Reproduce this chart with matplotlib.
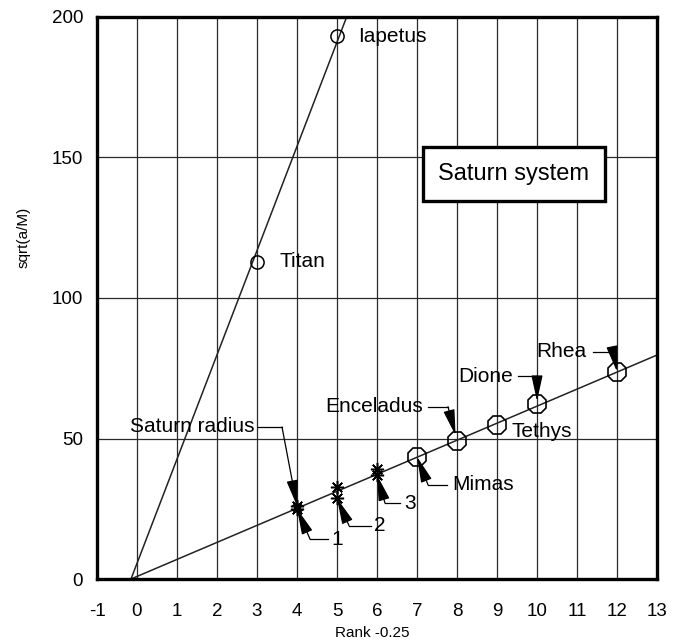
import matplotlib
matplotlib.use("Agg")
import matplotlib.pyplot as plt
from matplotlib.patches import Rectangle
import numpy as np

plt.rcParams['font.family'] = ['Liberation Sans', 'DejaVu Sans']
plt.rcParams['axes.unicode_minus'] = False

# ---- data ----
outer_names = ["Titan", "Iapetus"]
outer_rank = [3, 5]
outer_val = [112.9, 193.2]

inner_names = ["Mimas", "Enceladus", "Tethys", "Dione", "Rhea"]
inner_rank = [7, 8, 9, 10, 12]
inner_val = [43.5, 49.2, 54.8, 62.3, 73.8]

star_rank = [4, 4, 5, 5, 6, 6]
star_val = [26.0, 25.0, 32.8, 28.7, 39.0, 37.0]

# fitted trend lines (start rank, slope)
line_x0 = -0.15
steep_slope = 37.1
shallow_slope = 6.06

x_ticks = list(range(-1, 14))
y_ticks = [0, 50, 100, 150, 200]

# annotations: text, text x, text y, ha, line start x, corner x, target x, target y, shrink
annots = [
    ("Saturn radius", 2.925, 54.1, "right", 3.025, 3.625, 4, 26.0, 0),
    ("1", 4.85, 14.2, "left", 4.775, 4.325, 4, 25.0, 0),
    ("2", 5.925, 19.0, "left", 5.85, 5.3, 5, 28.7, 0),
    ("3", 6.675, 27.0, "left", 6.575, 6.2, 6, 37.0, 0),
    ("Mimas", 7.87, 33.5, "left", 7.75, 7.275, 7, 43.5, 0),
    ("Enceladus", 7.15, 61.3, "right", 7.275, 7.775, 8, 49.2, 4),
    ("Dione", 9.4, 72.2, "right", 9.525, 10.0, 10, 62.3, 2),
    ("Rhea", 11.24, 80.9, "right", 11.4, 11.9, 12, 73.8, 0),
]

fig = plt.figure(figsize=(6.83, 6.44), dpi=100)
ax = fig.add_axes([97/683, 1-579/644, 560/683, 562/644])
ax.set_xlim(-1, 13)
ax.set_ylim(0, 200)

# grid
for xv in x_ticks[1:-1]:
    ax.axvline(xv, color='#2a2a2a', lw=0.9, zorder=1)
for yv in y_ticks[1:-1]:
    ax.axhline(yv, color='#2a2a2a', lw=0.9, zorder=1)

# trend lines
xs = np.array([line_x0, 13.5])
ax.plot(xs, steep_slope*(xs-line_x0), color='#222222', lw=1.1, zorder=2)
ax.plot(xs, shallow_slope*(xs-line_x0), color='#222222', lw=1.1, zorder=2)

# markers
ax.plot(outer_rank, outer_val, linestyle='none', marker='o', ms=9.5,
        mfc='none', mec='black', mew=1.1, zorder=4)
ax.plot(inner_rank, inner_val, linestyle='none', marker='8', ms=14,
        mfc='none', mec='black', mew=1.2, zorder=4)
ax.plot(star_rank, star_val, linestyle='none', marker=(8, 2, 0), ms=9.5,
        mec='black', mew=1.1, zorder=4)

# labels for outer moons and Tethys
ax.text(3.575, 112.9, "Titan", fontsize=15, ha='left', va='center', zorder=5)
ax.text(5.525, 193.2, "Iapetus", fontsize=15, ha='left', va='center', zorder=5)
ax.text(9.37, 52.4, "Tethys", fontsize=15, ha='left', va='center', zorder=5)

# annotated labels with elbow arrows
for (txt, tx, ty, ha, sx, cx, px, py, shr) in annots:
    ax.text(tx, ty, txt, fontsize=15, ha=ha, va='center', zorder=5)
    ax.plot([sx, cx], [ty, ty], color='black', lw=0.9, zorder=5)
    ax.annotate('', xy=(px, py), xytext=(cx, ty),
                arrowprops=dict(arrowstyle='-|>,head_length=1.6,head_width=0.35',
                                color='black', lw=0.9, shrinkA=0, shrinkB=shr,
                                mutation_scale=10),
                zorder=5)

# Saturn system box
ax.add_patch(Rectangle((7.14, 134.6), 4.56, 19.0, facecolor='white',
                       edgecolor='black', lw=2.4, zorder=6))
ax.text(9.42, 144.1, "Saturn system", fontsize=17, ha='center', va='center', zorder=7)

# axes styling
for sp in ax.spines.values():
    sp.set_linewidth(2.4)
    sp.set_zorder(8)
ax.set_xticks(x_ticks)
ax.set_yticks(y_ticks)
ax.tick_params(axis='both', length=0, labelsize=13.5)
ax.tick_params(axis='x', pad=17)
ax.tick_params(axis='y', pad=10)

ax.set_xlabel("Rank -0.25", fontsize=11)
ax.set_ylabel("sqrt(a/M)", fontsize=11)
ax.xaxis.set_label_coords(0.491, -0.084)
ax.yaxis.set_label_coords(-0.118, 0.607)

fig.savefig("out.png", dpi=100)
